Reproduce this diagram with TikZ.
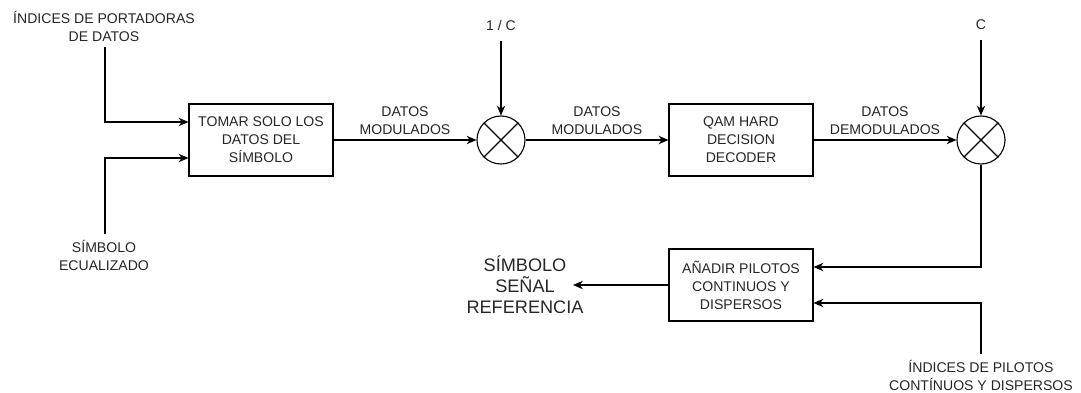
\documentclass[tikz,border=0pt]{standalone}
\usepackage{fontspec}
\setmainfont{Liberation Sans}
\usetikzlibrary{positioning,arrows.meta}

\begin{document}
\begin{tikzpicture}[x=0.025cm,y=-0.025cm,line width=0.8pt,>={Stealth[length=7pt,width=6pt]}]
    \tikzstyle{every node}=[align=center,font=\fontsize{10}{12.8}\selectfont,text=black!85]
    \tikzstyle{block}=[rectangle,draw,minimum width=3.6cm,minimum height=1.8cm]
    \tikzstyle{mixer}=[circle,draw,minimum size=1.2cm,inner sep=0pt]
    \useasboundingbox (0,0) rectangle (1081,393);
    % bloques
    \node[block] (tomar) at (261,140) {TOMAR SOLO LOS\\DATOS DEL\\SÍMBOLO};
    \node[mixer] (mult1) at (501,140) {};
    \node[block] (qam) at (741,140) {QAM HARD\\DECISION\\DECODER};
    \node[mixer] (mult2) at (981,140) {};
    \node[block] (pilotos) at (741,285) {AÑADIR PILOTOS\\CONTINUOS Y\\DISPERSOS};
    \draw (mult1.north west) -- (mult1.south east) (mult1.north east) -- (mult1.south west);
    \draw (mult2.north west) -- (mult2.south east) (mult2.north east) -- (mult2.south west);
    % entradas y salidas
    \node[inner sep=4pt] (portadoras) at (104,26) {ÍNDICES DE PORTADORAS\\DE DATOS};
    \node[inner sep=4pt] (ecualizado) at (104,255) {SÍMBOLO\\ECUALIZADO};
    \node[inner sep=7pt] (invc) at (501,25) {1 / C};
    \node[inner sep=7pt] (constc) at (981,25) {C};
    \node[inner sep=4pt] (indpilotos) at (981,375) {ÍNDICES DE PILOTOS\\CONTÍNUOS Y DISPERSOS};
    \node[font=\fontsize{12.9}{15}\selectfont] (referencia) at (525,285) {SÍMBOLO\\SEÑAL\\REFERENCIA};
    \coordinate (salida) at (573,285);
    % conexiones
    \draw[->] ([xshift=0.025cm]portadoras.south) |- ([yshift=0.45cm]tomar.west);
    \draw[->] ([xshift=0.025cm]ecualizado.north) |- ([yshift=-0.45cm]tomar.west);
    \draw[->] (tomar) -- node[above] {DATOS\\MODULADOS} (mult1);
    \draw[->] (invc) -- (mult1);
    \draw[->] (mult1) -- node[above] {DATOS\\MODULADOS} (qam);
    \draw[->] (qam) -- node[above] {DATOS\\DEMODULADOS} (mult2);
    \draw[->] (constc) -- (mult2);
    \draw[->] (mult2) |- ([yshift=0.45cm]pilotos.east);
    \draw[->] (indpilotos) |- ([yshift=-0.45cm]pilotos.east);
    \draw[->] (pilotos) -- (salida);
\end{tikzpicture}
\end{document}
